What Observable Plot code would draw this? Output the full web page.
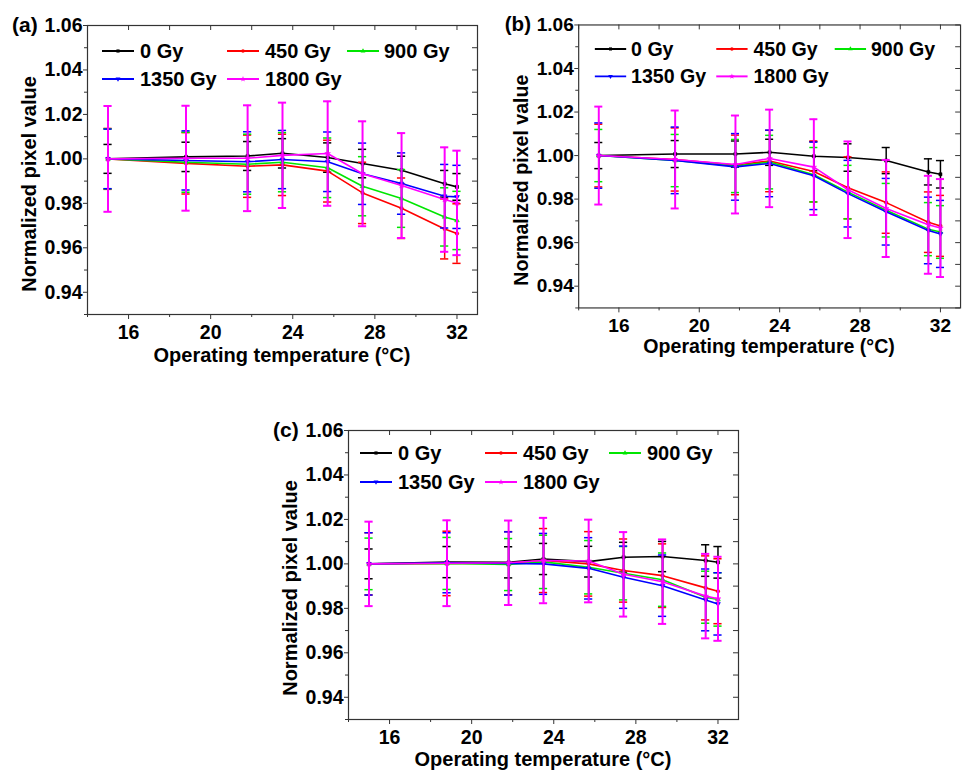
<!DOCTYPE html>
<html>
<head>
<meta charset="utf-8">
<script src="https://cdn.jsdelivr.net/npm/d3@7"></script>
<script src="https://cdn.jsdelivr.net/npm/@observablehq/plot@0.6"></script>
<style>
  html, body { margin: 0; padding: 0; background: #fff; }
  body { width: 963px; height: 771px; overflow: hidden; position: relative; }
  .panel { position: absolute; }
</style>
</head>
<body>
<div id="pa" class="panel" style="left:0px;top:0px"></div>
<div id="pb" class="panel" style="left:493px;top:0px"></div>
<div id="pc" class="panel" style="left:261px;top:405px"></div>
<script>
// ---- data ----
const temps = [15, 18.8, 21.8, 23.5, 25.7, 27.4, 29.3, 31.4, 32.0];
const doses = ["0 Gy", "450 Gy", "900 Gy", "1350 Gy", "1800 Gy"];
const colors = ["#000000", "#ff0000", "#00e600", "#0000ff", "#ff00ff"];
const symbols = ["square", "circle", "triangle", "triangle", "star"];
const xMajorTicks = [16, 20, 24, 28, 32];
const xMinorTicks = [14, 18, 22, 26, 30];
const yMajorTicks = [0.94, 0.96, 0.98, 1.00, 1.02, 1.04, 1.06];
const yMinorTicks = [0.93, 0.95, 0.97, 0.99, 1.01, 1.03, 1.05];
const xTitle = "Operating temperature (°C)";
const yTitle = "Normalized pixel value";

// panel (a)
const meanA = [
  [1.000, 1.0009, 1.0013, 1.0025, 1.0006, 0.9979, 0.9949, 0.9888, 0.9874],
  [1.000, 0.9980, 0.9967, 0.9973, 0.9945, 0.9847, 0.9778, 0.9685, 0.9664],
  [1.000, 0.9985, 0.9976, 0.9985, 0.9960, 0.9877, 0.9822, 0.9739, 0.9723],
  [1.000, 0.9993, 0.9987, 0.9997, 0.9987, 0.9933, 0.9889, 0.9832, 0.9829],
  [1.000, 1.0003, 1.0003, 1.0016, 1.0024, 0.9933, 0.9880, 0.9817, 0.9802]
];
const errA = [
  [0.0065, 0.0066, 0.0065, 0.0066, 0.0066, 0.0064, 0.0063, 0.0060, 0.0060],
  [0.0137, 0.0138, 0.0140, 0.0138, 0.0139, 0.0138, 0.0136, 0.0135, 0.0134],
  [0.0135, 0.0135, 0.0135, 0.0133, 0.0134, 0.0133, 0.0130, 0.0131, 0.0131],
  [0.0134, 0.0133, 0.0135, 0.0131, 0.0134, 0.0138, 0.0138, 0.0143, 0.0142],
  [0.0238, 0.0236, 0.0238, 0.0237, 0.0235, 0.0236, 0.0236, 0.0235, 0.0235]
];
// panel (b)
const meanB = [
  [1.000, 1.0007, 1.0007, 1.0015, 0.9997, 0.9991, 0.9977, 0.9925, 0.9914],
  [1.000, 0.9982, 0.9957, 0.9975, 0.9927, 0.9852, 0.9784, 0.9694, 0.9677],
  [1.000, 0.9977, 0.9952, 0.9970, 0.9912, 0.9832, 0.9749, 0.9662, 0.9649],
  [1.000, 0.9978, 0.9948, 0.9964, 0.9907, 0.9825, 0.9742, 0.9656, 0.9640],
  [1.000, 0.9982, 0.9959, 0.9987, 0.9947, 0.9843, 0.9757, 0.9682, 0.9667]
];
const errB = [
  [0.0060, 0.0062, 0.0060, 0.0060, 0.0067, 0.0063, 0.0060, 0.0060, 0.0063],
  [0.0144, 0.0145, 0.0137, 0.0141, 0.0140, 0.0142, 0.0141, 0.0139, 0.0140],
  [0.0120, 0.0120, 0.0122, 0.0123, 0.0125, 0.0123, 0.0123, 0.0122, 0.0121],
  [0.0150, 0.0153, 0.0153, 0.0153, 0.0155, 0.0153, 0.0153, 0.0153, 0.0154],
  [0.0225, 0.0225, 0.0225, 0.0224, 0.0220, 0.0222, 0.0223, 0.0225, 0.0225]
];
// panel (c)
const meanC = [
  [1.000, 1.0008, 1.0007, 1.0022, 1.0010, 1.0030, 1.0033, 1.0015, 1.0007],
  [1.000, 1.0002, 1.0003, 1.0015, 1.0000, 0.9970, 0.9947, 0.9892, 0.9877],
  [1.000, 1.0002, 0.9997, 1.0009, 0.9985, 0.9958, 0.9929, 0.9850, 0.9840],
  [1.000, 1.0005, 1.0002, 1.0000, 0.9980, 0.9940, 0.9902, 0.9838, 0.9820],
  [1.000, 1.0003, 1.0005, 1.0015, 1.0013, 0.9953, 0.9920, 0.9855, 0.9843]
];
const errC = [
  [0.0067, 0.0070, 0.0070, 0.0070, 0.0069, 0.0067, 0.0068, 0.0071, 0.0071],
  [0.0140, 0.0145, 0.0142, 0.0144, 0.0145, 0.0142, 0.0143, 0.0144, 0.0146],
  [0.0116, 0.0117, 0.0117, 0.0120, 0.0120, 0.0120, 0.0120, 0.0117, 0.0120],
  [0.0140, 0.0135, 0.0142, 0.0137, 0.0138, 0.0140, 0.0138, 0.0139, 0.0140],
  [0.0190, 0.0193, 0.0190, 0.0192, 0.0186, 0.0190, 0.0190, 0.0190, 0.0189]
];

const FONT = '"Liberation Sans", Arial, Helvetica, sans-serif';

function makePanel(target, letter, mean, err, leg) {
  const W = 480, H = 370, mL = 87, mR = 3, mT = 25, mB = 56;
  const fw = W - mL - mR, fh = H - mT - mB;
  const marks = [
    Plot.ruleY([...yMajorTicks, ...yMinorTicks], {y: d => d, insetLeft: fw - 5, stroke: "#333", strokeWidth: 1}),
    Plot.ruleX([...xMajorTicks, ...xMinorTicks], {x: d => d, insetBottom: fh - 5, stroke: "#333", strokeWidth: 1}),
    Plot.axisY(yMajorTicks, {tickSize: 4, tickPadding: 1, tickFormat: d3.format(".2f"), label: null, stroke: "#333", fontSize: 19.5}),
    Plot.axisY(yMinorTicks, {tickSize: 3, tickFormat: () => "", label: null, stroke: "#333"}),
    Plot.axisX(xMajorTicks, {tickSize: 5, tickPadding: 6, tickFormat: d => String(d), label: null, stroke: "#333", fontSize: 19.5}),
    Plot.axisX(xMinorTicks, {tickSize: 3, tickFormat: () => "", label: null, stroke: "#333"})
  ];
  doses.forEach((dose, i) => {
    const rows = temps.map((t, j) => ({t, m: mean[i][j], e: err[i][j]}));
    const c = colors[i];
    const sw = i === 4 ? 2 : 1.5;
    marks.push(
      Plot.ruleX(rows, {x: "t", y1: d => d.m - d.e, y2: d => d.m + d.e, stroke: c, strokeWidth: sw}),
      Plot.ruleY(rows, {y: d => d.m + d.e, x1: d => d.t - 0.2, x2: d => d.t + 0.2, stroke: c, strokeWidth: sw}),
      Plot.ruleY(rows, {y: d => d.m - d.e, x1: d => d.t - 0.2, x2: d => d.t + 0.2, stroke: c, strokeWidth: sw}),
      Plot.line(rows, {x: "t", y: "m", stroke: c, strokeWidth: 1.6}),
      Plot.dot(rows, {x: "t", y: "m", symbol: symbols[i], r: 1.8, fill: c, stroke: c, strokeWidth: 0.5, rotate: i === 3 ? 180 : 0})
    );
  });
  marks.push(Plot.frame({stroke: "#333", strokeWidth: 1.2}));

  const svg = Plot.plot({
    width: W, height: H,
    marginLeft: mL, marginRight: mR, marginTop: mT, marginBottom: mB,
    x: {domain: [14, 33]},
    y: {domain: [0.93, 1.06]},
    style: {fontFamily: FONT, fontSize: "19px", fontWeight: "bold", color: "#000", background: "transparent", overflow: "visible"},
    marks
  });

  const g = d3.select(svg);
  // panel letter
  g.append("text").attr("x", 12).attr("y", 32).attr("text-anchor", "start").attr("font-size", 21).attr("font-weight", "bold")
    .attr("fill", "#000").text(letter);
  // y title
  g.append("text").attr("transform", `translate(36,${leg.yTitleY}) rotate(-90)`).attr("text-anchor", "middle")
    .attr("font-size", 20).attr("font-weight", "bold").attr("fill", "#000").text(yTitle);
  // x title
  g.append("text").attr("x", mL + fw / 2).attr("y", leg.xTitleY).attr("text-anchor", "middle")
    .attr("font-size", 20).attr("font-weight", "bold").attr("fill", "#000").text(xTitle);
  // legend
  const symScale = {square: d3.symbolSquare, circle: d3.symbolCircle, triangle: d3.symbolTriangle, star: d3.symbolStar};
  doses.forEach((dose, i) => {
    const row = i < 3 ? 0 : 1;
    const col = i < 3 ? i : i - 3;
    const lx = leg.lineX[col], tx = leg.textX[col], y = leg.rowY[row];
    g.append("line").attr("x1", lx).attr("x2", lx + 32).attr("y1", y).attr("y2", y)
      .attr("stroke", colors[i]).attr("stroke-width", 2);
    g.append("path").attr("d", d3.symbol(symScale[symbols[i]], 10)())
      .attr("transform", `translate(${lx + 16},${y})` + (i === 3 ? " rotate(180)" : ""))
      .attr("fill", colors[i]);
    g.append("text").attr("x", tx).attr("y", y + 7).attr("text-anchor", "start").attr("font-size", 20).attr("font-weight", "bold")
      .attr("fill", "#000").text(dose);
  });
  document.getElementById(target).appendChild(svg);
}

makePanel("pa", "(a)", meanA, errA, {lineX: [102, 227, 347], textX: [140, 265, 384], rowY: [51, 79], yTitleY: 184, xTitleY: 362});
makePanel("pb", "(b)", meanB, errB, {lineX: [104, 228, 349], textX: [141, 266, 386], rowY: [50, 78], yTitleY: 184, xTitleY: 361});
makePanel("pc", "(c)", meanC, errC, {lineX: [99, 224, 348], textX: [137, 262, 386], rowY: [48, 77], yTitleY: 183, xTitleY: 361});
</script>
</body>
</html>
